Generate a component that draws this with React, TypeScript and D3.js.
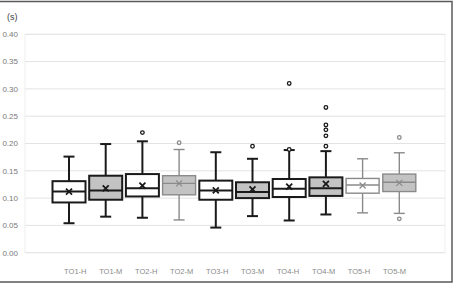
import React from "react";
import * as d3 from "d3";

const categories = ["TO1-H", "TO1-M", "TO2-H", "TO2-M", "TO3-H", "TO3-M", "TO4-H", "TO4-M", "TO5-H", "TO5-M"];
const whiskerLow = [0.054, 0.066, 0.064, 0.060, 0.046, 0.067, 0.059, 0.070, 0.073, 0.072];
const q1 = [0.092, 0.097, 0.103, 0.106, 0.097, 0.100, 0.102, 0.104, 0.109, 0.112];
const median = [0.112, 0.114, 0.118, 0.127, 0.114, 0.111, 0.117, 0.118, 0.124, 0.129];
const q3 = [0.131, 0.141, 0.144, 0.141, 0.132, 0.129, 0.135, 0.138, 0.136, 0.144];
const whiskerHigh = [0.176, 0.199, 0.204, 0.189, 0.184, 0.172, 0.188, 0.186, 0.172, 0.183];
const means = [0.112, 0.118, 0.123, 0.127, 0.114, 0.116, 0.121, 0.126, 0.123, 0.128];
const outliers: number[][] = [
  [],
  [],
  [0.220],
  [0.2015],
  [],
  [0.195],
  [0.310, 0.189],
  [0.266, 0.234, 0.225, 0.214, 0.195],
  [],
  [0.211, 0.062],
];
const filled = [false, true, false, true, false, true, false, true, false, true];
const muted = [false, false, false, true, false, false, false, false, true, true];
const yTicks = [0, 0.05, 0.1, 0.15, 0.2, 0.25, 0.3, 0.35, 0.4];

const W = 454;
const H = 285;

export default function App() {
  const y = d3.scaleLinear().domain([0, 0.4]).range([252.7, 34.3]);
  const x = d3.scaleBand<string>().domain(categories).range([50.65, 417.65]).paddingInner(0.1).paddingOuter(0.05);
  const xl = d3.scalePoint<string>().domain(categories).range([75.3, 394.5]);
  const bw = 33;
  const cap = 5.5;
  const fmt = d3.format(".2f");
  const font = "'Liberation Sans', Arial, sans-serif";

  return (
    <svg width={W} height={H} style={{ position: "absolute", left: 0, top: 0 }} fontFamily={font}>
      <rect x={0} y={0} width={W} height={H} fill="#fff" />
      <rect x={-2} y={1.5} width={454} height={280.5} fill="none" stroke="#5a5a5a" strokeWidth={1.5} />
      <rect x={25} y={34.3} width={420} height={218.4} fill="none" stroke="#f0f0f0" strokeWidth={1} />
      {yTicks.map((t) => (
        <g key={t}>
          <line x1={25} x2={445} y1={y(t)} y2={y(t)} stroke="#e3e3e3" strokeWidth={1} />
          <text x={18} y={y(t) + 2.8} fontSize={8} fill="#7a7a7a" textAnchor="end">
            {fmt(t)}
          </text>
        </g>
      ))}
      <text x={7} y={20} fontSize={9} fill="#404040">(s)</text>
      {categories.map((c, i) => {
        const cx = (x(c) as number) + x.bandwidth() / 2;
        const stroke = muted[i] ? "#8a8a8a" : "#1a1a1a";
        const sw = muted[i] ? 1.4 : 2;
        const fill = filled[i] ? "#c3c3c3" : "#ffffff";
        const m = 3;
        return (
          <g key={c}>
            <line x1={cx} x2={cx} y1={y(whiskerHigh[i])} y2={y(q3[i])} stroke={stroke} strokeWidth={sw} />
            <line x1={cx} x2={cx} y1={y(q1[i])} y2={y(whiskerLow[i])} stroke={stroke} strokeWidth={sw} />
            <line x1={cx - cap} x2={cx + cap} y1={y(whiskerHigh[i])} y2={y(whiskerHigh[i])} stroke={stroke} strokeWidth={sw} />
            <line x1={cx - cap} x2={cx + cap} y1={y(whiskerLow[i])} y2={y(whiskerLow[i])} stroke={stroke} strokeWidth={sw} />
            <rect
              x={cx - bw / 2}
              y={y(q3[i])}
              width={bw}
              height={y(q1[i]) - y(q3[i])}
              fill={fill}
              stroke={stroke}
              strokeWidth={sw}
            />
            <line x1={cx - bw / 2} x2={cx + bw / 2} y1={y(median[i])} y2={y(median[i])} stroke={stroke} strokeWidth={sw} />
            <path
              d={`M${cx - m},${y(means[i]) - m}L${cx + m},${y(means[i]) + m}M${cx - m},${y(means[i]) + m}L${cx + m},${y(means[i]) - m}`}
              stroke={stroke}
              strokeWidth={muted[i] ? 1.2 : 1.8}
            />
            {outliers[i].map((o, k) => (
              <circle key={k} cx={cx} cy={y(o)} r={1.8} fill="#fff" stroke={stroke} strokeWidth={1.3} />
            ))}
            <text x={xl(c)} y={274} fontSize={7.5} fill="#8a8a8a" textAnchor="middle">
              {c}
            </text>
          </g>
        );
      })}
    </svg>
  );
}
